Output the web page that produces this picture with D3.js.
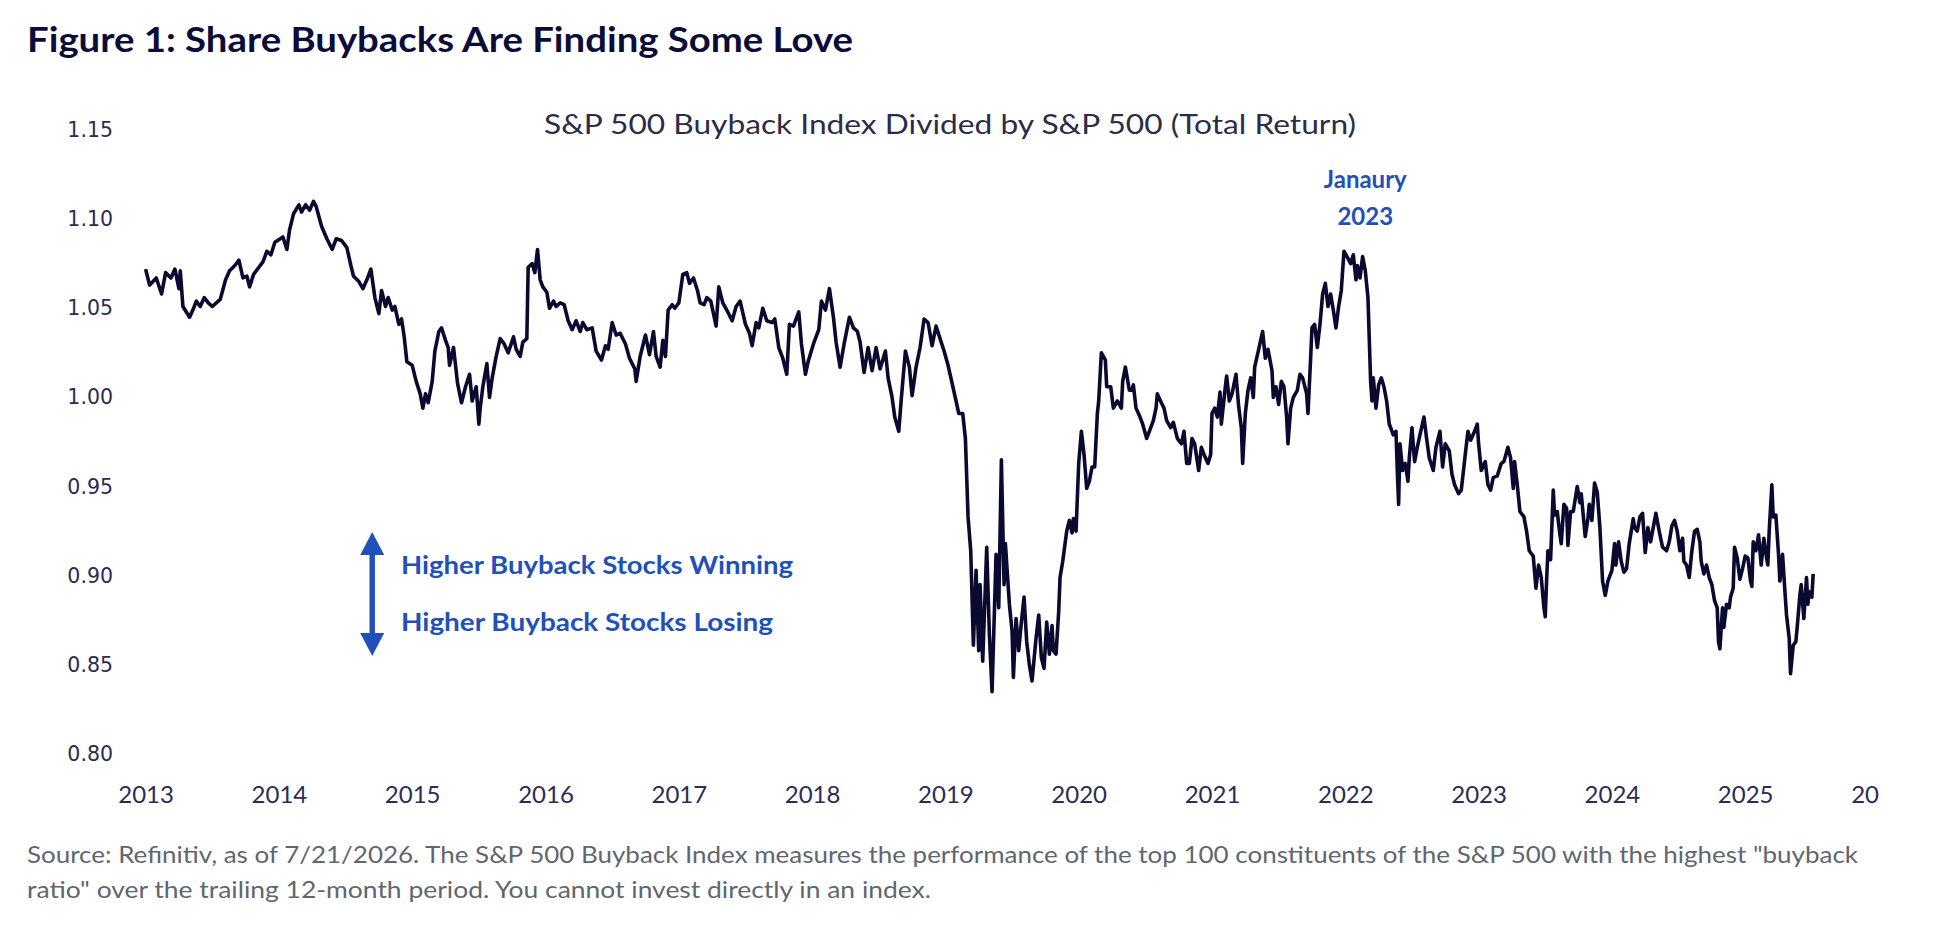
<!DOCTYPE html>
<html>
<head>
<meta charset="utf-8">
<script src="https://d3js.org/d3.v7.min.js"></script>
<style>
  body { margin: 0; background: #fff; }
  svg { display: block; }
</style>
</head>
<body>
<div id="chart"></div>
<script>
// S&P 500 Buyback Index / S&P 500 (total return)
// dates are decimal years, one row per calendar year
const dates = [
  2013.00, 2013.03, 2013.08, 2013.12, 2013.15, 2013.19, 2013.22, 2013.25, 2013.26, 2013.28, 2013.33, 2013.36, 2013.38, 2013.41, 2013.44, 2013.47, 2013.50, 2013.53, 2013.56, 2013.60, 2013.63, 2013.67, 2013.70, 2013.73, 2013.76, 2013.78, 2013.81, 2013.85, 2013.88, 2013.91, 2013.94, 2013.97,
  2014.01, 2014.03, 2014.06, 2014.08, 2014.11, 2014.15, 2014.17, 2014.20, 2014.23, 2014.26, 2014.28, 2014.32, 2014.36, 2014.40, 2014.43, 2014.47, 2014.51, 2014.54, 2014.56, 2014.60, 2014.63, 2014.66, 2014.69, 2014.72, 2014.75, 2014.77, 2014.80, 2014.82, 2014.85, 2014.87, 2014.90, 2014.92, 2014.94, 2014.96,
  2015.00, 2015.03, 2015.06, 2015.08, 2015.10, 2015.12, 2015.15, 2015.17, 2015.20, 2015.22, 2015.25, 2015.27, 2015.28, 2015.31, 2015.34, 2015.37, 2015.40, 2015.43, 2015.45, 2015.48, 2015.50, 2015.51, 2015.53, 2015.56, 2015.58, 2015.60, 2015.63, 2015.66, 2015.69, 2015.72, 2015.76, 2015.78, 2015.81, 2015.83, 2015.86, 2015.87, 2015.90, 2015.92, 2015.94, 2015.96, 2015.98,
  2016.01, 2016.03, 2016.06, 2016.08, 2016.11, 2016.14, 2016.17, 2016.20, 2016.23, 2016.26, 2016.28, 2016.31, 2016.35, 2016.38, 2016.42, 2016.45, 2016.47, 2016.50, 2016.53, 2016.56, 2016.60, 2016.63, 2016.67, 2016.68, 2016.71, 2016.73, 2016.75, 2016.78, 2016.81, 2016.83, 2016.86, 2016.88, 2016.90, 2016.92, 2016.95, 2016.97,
  2017.00, 2017.03, 2017.06, 2017.08, 2017.11, 2017.14, 2017.16, 2017.19, 2017.21, 2017.24, 2017.26, 2017.28, 2017.30, 2017.33, 2017.36, 2017.40, 2017.43, 2017.46, 2017.50, 2017.53, 2017.55, 2017.58, 2017.60, 2017.63, 2017.66, 2017.70, 2017.72, 2017.75, 2017.78, 2017.81, 2017.83, 2017.86, 2017.90, 2017.92, 2017.95, 2017.97,
  2018.01, 2018.05, 2018.07, 2018.10, 2018.13, 2018.16, 2018.18, 2018.21, 2018.24, 2018.28, 2018.31, 2018.34, 2018.36, 2018.39, 2018.42, 2018.45, 2018.48, 2018.51, 2018.55, 2018.57, 2018.60, 2018.62, 2018.65, 2018.67, 2018.70, 2018.73, 2018.75, 2018.78, 2018.81, 2018.84, 2018.87, 2018.90, 2018.93, 2018.96, 2018.99,
  2019.02, 2019.05, 2019.08, 2019.10, 2019.13, 2019.15, 2019.17, 2019.19, 2019.21, 2019.23, 2019.25, 2019.26, 2019.28, 2019.31, 2019.33, 2019.35, 2019.38, 2019.40, 2019.42, 2019.44, 2019.45, 2019.48, 2019.50, 2019.51, 2019.53, 2019.55, 2019.57, 2019.59, 2019.61, 2019.63, 2019.65, 2019.68, 2019.70, 2019.72, 2019.74, 2019.76, 2019.78, 2019.80, 2019.81, 2019.83, 2019.85, 2019.86, 2019.88, 2019.91, 2019.93, 2019.95, 2019.96, 2019.98,
  2020.00, 2020.02, 2020.04, 2020.06, 2020.08, 2020.10, 2020.12, 2020.14, 2020.15, 2020.17, 2020.20, 2020.21, 2020.24, 2020.26, 2020.29, 2020.32, 2020.33, 2020.35, 2020.38, 2020.40, 2020.41, 2020.43, 2020.46, 2020.48, 2020.51, 2020.53, 2020.56, 2020.58, 2020.59, 2020.62, 2020.64, 2020.66, 2020.69, 2020.71, 2020.74, 2020.77, 2020.79, 2020.81, 2020.83, 2020.85, 2020.87, 2020.90, 2020.92, 2020.94, 2020.97, 2020.99,
  2021.00, 2021.02, 2021.04, 2021.06, 2021.07, 2021.10, 2021.11, 2021.13, 2021.15, 2021.18, 2021.20, 2021.22, 2021.23, 2021.25, 2021.27, 2021.29, 2021.31, 2021.32, 2021.35, 2021.38, 2021.40, 2021.42, 2021.45, 2021.46, 2021.48, 2021.50, 2021.52, 2021.54, 2021.56, 2021.57, 2021.59, 2021.61, 2021.64, 2021.66, 2021.68, 2021.71, 2021.72, 2021.74, 2021.75, 2021.77, 2021.79, 2021.81, 2021.83, 2021.85, 2021.87, 2021.89, 2021.91, 2021.93, 2021.95, 2021.97, 2021.99,
  2022.02, 2022.04, 2022.06, 2022.08, 2022.09, 2022.11, 2022.13, 2022.15, 2022.17, 2022.19, 2022.20, 2022.21, 2022.23, 2022.25, 2022.27, 2022.29, 2022.31, 2022.33, 2022.36, 2022.38, 2022.39, 2022.40, 2022.41, 2022.43, 2022.45, 2022.47, 2022.48, 2022.50, 2022.52, 2022.54, 2022.56, 2022.59, 2022.61, 2022.63, 2022.66, 2022.68, 2022.71, 2022.73, 2022.75, 2022.78, 2022.80, 2022.82, 2022.85, 2022.87, 2022.90, 2022.92, 2022.94, 2022.97, 2022.99,
  2023.00, 2023.02, 2023.05, 2023.07, 2023.09, 2023.11, 2023.14, 2023.17, 2023.19, 2023.22, 2023.24, 2023.26, 2023.27, 2023.29, 2023.31, 2023.34, 2023.36, 2023.38, 2023.41, 2023.43, 2023.45, 2023.47, 2023.49, 2023.50, 2023.51, 2023.52, 2023.54, 2023.56, 2023.57, 2023.59, 2023.61, 2023.62, 2023.64, 2023.66, 2023.67, 2023.69, 2023.71, 2023.74, 2023.76, 2023.77, 2023.80, 2023.82, 2023.83, 2023.85, 2023.87, 2023.89, 2023.91, 2023.93, 2023.95, 2023.97,
  2024.00, 2024.02, 2024.03, 2024.05, 2024.07, 2024.09, 2024.11, 2024.13, 2024.16, 2024.17, 2024.19, 2024.21, 2024.23, 2024.25, 2024.27, 2024.29, 2024.31, 2024.33, 2024.36, 2024.38, 2024.41, 2024.43, 2024.45, 2024.47, 2024.49, 2024.51, 2024.53, 2024.54, 2024.56, 2024.58, 2024.60, 2024.62, 2024.64, 2024.66, 2024.67, 2024.69, 2024.71, 2024.73, 2024.75, 2024.77, 2024.79, 2024.80, 2024.81, 2024.83, 2024.84, 2024.86, 2024.88, 2024.89, 2024.91, 2024.92, 2024.94, 2024.96, 2024.98,
  2025.00, 2025.02, 2025.04, 2025.05, 2025.06, 2025.08, 2025.10, 2025.12, 2025.14, 2025.16, 2025.17, 2025.18, 2025.20, 2025.21, 2025.23, 2025.25, 2025.26, 2025.28, 2025.30, 2025.31, 2025.33, 2025.34, 2025.36, 2025.38, 2025.39, 2025.41, 2025.42, 2025.44, 2025.46, 2025.47, 2025.48, 2025.50, 2025.51
];
const values = [
  1.072, 1.063, 1.067, 1.058, 1.070, 1.067, 1.072, 1.061, 1.071, 1.051, 1.045, 1.050, 1.054, 1.051, 1.056, 1.053, 1.051, 1.053, 1.055, 1.066, 1.071, 1.074, 1.077, 1.067, 1.068, 1.062, 1.069, 1.073, 1.076, 1.082, 1.080, 1.087,
  1.089, 1.090, 1.083, 1.094, 1.103, 1.108, 1.104, 1.108, 1.105, 1.110, 1.107, 1.096, 1.089, 1.083, 1.089, 1.088, 1.084, 1.074, 1.068, 1.065, 1.061, 1.066, 1.072, 1.056, 1.047, 1.060, 1.051, 1.056, 1.049, 1.051, 1.041, 1.044, 1.034, 1.020,
  1.018, 1.009, 1.002, 0.994, 1.002, 0.997, 1.009, 1.026, 1.037, 1.039, 1.032, 1.028, 1.018, 1.028, 1.008, 0.997, 1.006, 1.013, 0.998, 1.006, 0.985, 0.994, 1.006, 1.019, 1.000, 1.011, 1.023, 1.033, 1.030, 1.025, 1.034, 1.027, 1.023, 1.031, 1.033, 1.073, 1.075, 1.070, 1.083, 1.066, 1.062,
  1.059, 1.050, 1.054, 1.051, 1.053, 1.052, 1.043, 1.038, 1.043, 1.037, 1.042, 1.038, 1.039, 1.026, 1.021, 1.029, 1.027, 1.042, 1.035, 1.036, 1.030, 1.022, 1.016, 1.009, 1.023, 1.029, 1.035, 1.024, 1.037, 1.023, 1.017, 1.032, 1.023, 1.049, 1.052, 1.050,
  1.053, 1.069, 1.070, 1.064, 1.067, 1.060, 1.053, 1.052, 1.056, 1.054, 1.047, 1.040, 1.062, 1.053, 1.049, 1.043, 1.051, 1.054, 1.041, 1.036, 1.029, 1.042, 1.039, 1.050, 1.043, 1.042, 1.044, 1.028, 1.022, 1.013, 1.041, 1.040, 1.048, 1.030, 1.013, 1.020,
  1.030, 1.038, 1.054, 1.049, 1.061, 1.045, 1.031, 1.017, 1.030, 1.045, 1.039, 1.037, 1.031, 1.014, 1.028, 1.015, 1.028, 1.016, 1.026, 1.011, 1.000, 0.989, 0.981, 1.000, 1.026, 1.017, 1.001, 1.017, 1.028, 1.044, 1.042, 1.029, 1.040, 1.033, 1.026,
  1.018, 1.008, 0.998, 0.991, 0.991, 0.977, 0.933, 0.914, 0.861, 0.903, 0.858, 0.895, 0.852, 0.916, 0.867, 0.835, 0.912, 0.882, 0.965, 0.895, 0.918, 0.884, 0.869, 0.843, 0.876, 0.858, 0.874, 0.888, 0.863, 0.850, 0.841, 0.865, 0.878, 0.854, 0.848, 0.874, 0.856, 0.872, 0.858, 0.856, 0.880, 0.899, 0.908, 0.925, 0.931, 0.924, 0.932, 0.925,
  0.963, 0.981, 0.968, 0.949, 0.953, 0.961, 0.961, 0.991, 0.998, 1.025, 1.021, 1.006, 1.006, 0.994, 0.998, 0.994, 1.009, 1.017, 1.004, 1.004, 1.007, 0.994, 0.989, 0.985, 0.977, 0.981, 0.987, 0.994, 1.002, 0.997, 0.994, 0.987, 0.983, 0.986, 0.977, 0.974, 0.981, 0.963, 0.963, 0.977, 0.974, 0.959, 0.972, 0.968, 0.963, 0.968,
  0.991, 0.994, 0.989, 1.003, 0.985, 1.006, 1.012, 0.998, 1.002, 1.013, 0.995, 0.983, 0.963, 0.991, 1.004, 1.011, 1.000, 1.017, 1.027, 1.037, 1.022, 1.027, 1.015, 1.000, 1.006, 0.996, 1.009, 1.006, 0.989, 0.974, 0.994, 1.000, 1.004, 1.013, 1.011, 1.002, 0.991, 1.022, 1.039, 1.041, 1.028, 1.041, 1.058, 1.064, 1.051, 1.058, 1.049, 1.039, 1.051, 1.060, 1.082,
  1.078, 1.075, 1.080, 1.066, 1.074, 1.067, 1.079, 1.071, 1.056, 1.009, 0.998, 1.011, 0.994, 1.007, 1.011, 1.006, 0.998, 0.985, 0.979, 0.981, 0.959, 0.940, 0.974, 0.959, 0.963, 0.953, 0.966, 0.983, 0.964, 0.972, 0.979, 0.989, 0.977, 0.966, 0.959, 0.972, 0.981, 0.961, 0.974, 0.970, 0.957, 0.951, 0.946, 0.948, 0.968, 0.981, 0.976, 0.981, 0.985,
  0.974, 0.959, 0.964, 0.951, 0.948, 0.955, 0.956, 0.963, 0.964, 0.972, 0.966, 0.949, 0.964, 0.951, 0.936, 0.933, 0.925, 0.914, 0.911, 0.893, 0.906, 0.899, 0.882, 0.877, 0.897, 0.914, 0.909, 0.948, 0.934, 0.936, 0.923, 0.918, 0.940, 0.938, 0.917, 0.936, 0.936, 0.950, 0.941, 0.946, 0.922, 0.932, 0.940, 0.931, 0.952, 0.947, 0.927, 0.897, 0.889, 0.897,
  0.903, 0.918, 0.906, 0.919, 0.908, 0.902, 0.904, 0.918, 0.932, 0.927, 0.925, 0.933, 0.935, 0.913, 0.927, 0.919, 0.927, 0.935, 0.923, 0.916, 0.914, 0.919, 0.928, 0.931, 0.925, 0.914, 0.921, 0.908, 0.906, 0.899, 0.914, 0.925, 0.926, 0.919, 0.908, 0.901, 0.906, 0.899, 0.895, 0.886, 0.882, 0.863, 0.859, 0.882, 0.871, 0.884, 0.882, 0.888, 0.893, 0.916, 0.910, 0.898, 0.904,
  0.911, 0.910, 0.897, 0.894, 0.919, 0.914, 0.923, 0.906, 0.921, 0.910, 0.906, 0.925, 0.951, 0.933, 0.934, 0.912, 0.897, 0.912, 0.889, 0.878, 0.865, 0.845, 0.861, 0.863, 0.871, 0.889, 0.895, 0.876, 0.899, 0.884, 0.891, 0.888, 0.901
];

const xTicks = [2013, 2014, 2015, 2016, 2017, 2018, 2019, 2020, 2021, 2022, 2023, 2024, 2025, 2026];
const yTicks = [0.80, 0.85, 0.90, 0.95, 1.00, 1.05, 1.10, 1.15];

const figTitle = "Figure 1: Share Buybacks Are Finding Some Love";
const chartTitle = "S&P 500 Buyback Index Divided by S&P 500 (Total Return)";
const peakLabel = ["Janaury", "2023"];
const arrowLabels = ["Higher Buyback Stocks Winning", "Higher Buyback Stocks Losing"];
const sourceLines = [
  "Source: Refinitiv, as of 7/21/2026. The S&P 500 Buyback Index measures the performance of the top 100 constituents of the S&P 500 with the highest \"buyback",
  "ratio\" over the trailing 12-month period. You cannot invest directly in an index."
];

const width = 1960, height = 932;
const navy = "#0c0c3a", blue = "#2150b9", tickColor = "#2b2b55", grey = "#5f6670";

const svg = d3.select("#chart").append("svg")
  .attr("width", width)
  .attr("height", height)
  .style("background", "#fff");

const x = d3.scaleLinear().domain([2013, 2026]).range([145.6, 1878.5]);
const y = d3.scaleLinear().domain([0.80, 1.15]).range([754, 130]);

// the source image was cropped just after the last tick label
svg.append("defs").append("clipPath").attr("id", "crop")
  .append("rect").attr("x", 0).attr("y", 0).attr("width", 1880).attr("height", height);

// headings
svg.append("text")
  .attr("x", 27).attr("y", 52)
  .attr("textLength", 826).attr("lengthAdjust", "spacingAndGlyphs")
  .style("font-family", "Lato, 'Noto Sans', sans-serif")
  .style("font-weight", 700).style("font-size", "34px")
  .style("fill", navy)
  .text(figTitle);

svg.append("text")
  .attr("x", 950).attr("y", 134)
  .attr("text-anchor", "middle")
  .attr("textLength", 812).attr("lengthAdjust", "spacingAndGlyphs")
  .style("font-family", "Lato, 'Noto Sans', sans-serif")
  .style("font-size", "27px")
  .style("fill", "#2c2c48")
  .text(chartTitle);

// axes, no lines or ticks, only labels
const xAxis = svg.append("g")
  .attr("transform", `translate(0, ${y(0.80)})`)
  .attr("clip-path", "url(#crop)")
  .call(d3.axisBottom(x).tickValues(xTicks).tickFormat(d3.format("d")).tickSize(0).tickPadding(32));
xAxis.select(".domain").remove();
xAxis.selectAll("text")
  .style("font-family", "Lato, 'Noto Sans', sans-serif")
  .style("font-size", "24px")
  .style("fill", tickColor);

const yAxis = svg.append("g")
  .attr("transform", "translate(113, 0)")
  .call(d3.axisLeft(y).tickValues(yTicks).tickFormat(d3.format(".2f")).tickSize(0).tickPadding(0));
yAxis.select(".domain").remove();
yAxis.selectAll("text")
  .style("font-family", "'DejaVu Sans', Verdana, sans-serif")
  .style("font-size", "20.5px")
  .style("fill", tickColor);

// series
const line = d3.line()
  .x((d, i) => x(dates[i]))
  .y(d => y(d));

svg.append("path")
  .datum(values)
  .attr("d", line)
  .attr("fill", "none")
  .attr("stroke", "#0a0a30")
  .attr("stroke-width", 3.6)
  .attr("stroke-linejoin", "round");

// peak annotation
svg.append("text")
  .attr("x", x(2022.15)).attr("text-anchor", "middle")
  .style("font-family", "Lato, 'Noto Sans', sans-serif")
  .style("font-weight", 700).style("font-size", "24px")
  .style("fill", blue)
  .selectAll("tspan").data(peakLabel).join("tspan")
    .attr("x", x(2022.15))
    .attr("y", (d, i) => 188 + i * 37)
    .text(d => d);

// winning / losing arrow
const ax = x(2014.7), aTop = y(0.9245), aBot = y(0.855), head = 23, half = 12;
svg.append("line")
  .attr("x1", ax).attr("x2", ax)
  .attr("y1", aTop + head - 2).attr("y2", aBot - head + 2)
  .attr("stroke", blue).attr("stroke-width", 5.5);
svg.append("path")
  .attr("d", `M${ax},${aTop} L${ax + half},${aTop + head} L${ax - half},${aTop + head} Z`)
  .attr("fill", blue);
svg.append("path")
  .attr("d", `M${ax},${aBot} L${ax + half},${aBot - head} L${ax - half},${aBot - head} Z`)
  .attr("fill", blue);

svg.selectAll(".arrow-label").data(arrowLabels).join("text")
  .attr("class", "arrow-label")
  .attr("x", 401)
  .attr("y", (d, i) => 574 + i * 57)
  .attr("textLength", (d, i) => i === 0 ? 392 : 372)
  .attr("lengthAdjust", "spacingAndGlyphs")
  .style("font-family", "Lato, 'Noto Sans', sans-serif")
  .style("font-weight", 700).style("font-size", "25px")
  .style("fill", blue)
  .text(d => d);

// source note
svg.selectAll(".source").data(sourceLines).join("text")
  .attr("class", "source")
  .attr("x", 27)
  .attr("y", (d, i) => 863 + i * 35)
  .attr("textLength", (d, i) => i === 0 ? 1831 : 904)
  .attr("lengthAdjust", "spacingAndGlyphs")
  .style("font-family", "Lato, 'Noto Sans', sans-serif")
  .style("font-size", "24px")
  .style("fill", grey)
  .text(d => d);
</script>
</body>
</html>
